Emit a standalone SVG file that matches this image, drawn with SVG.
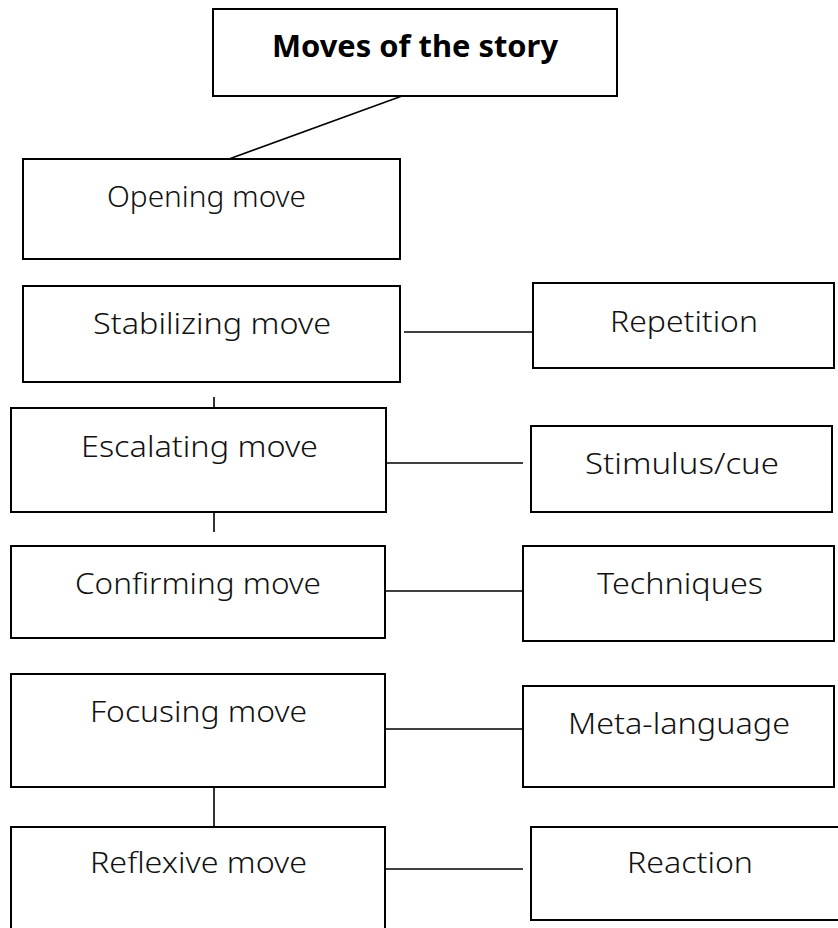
<svg xmlns="http://www.w3.org/2000/svg" width="838" height="928" viewBox="0 0 838 928">
<style>
.box{fill:#fff;stroke:#000;stroke-width:2}
.t{font-family:"Noto Sans","Liberation Sans",sans-serif;font-size:29px;font-weight:300;fill:#111;text-anchor:middle}
.b{font-weight:bold;font-size:31px;fill:#000}
.c{stroke:#000;stroke-width:1.6;fill:none}
</style>
<rect width="838" height="928" fill="#fff"/>
<g id="connectors">
<line class="c" x1="402" y1="96" x2="229" y2="159"/>
<line class="c" x1="404" y1="332" x2="533" y2="332"/>
<line class="c" x1="214" y1="397" x2="214" y2="409"/>
<line class="c" x1="383" y1="463" x2="523" y2="463"/>
<line class="c" x1="214" y1="512" x2="214" y2="532"/>
<line class="c" x1="385" y1="591" x2="531" y2="591"/>
<line class="c" x1="386" y1="729" x2="523" y2="729"/>
<line class="c" x1="214" y1="787" x2="214" y2="827"/>
<line class="c" x1="386" y1="869" x2="523" y2="869"/>
</g>
<g id="n-title"><rect class="box" x="213" y="9" width="404" height="87"/><text class="t b" x="415" y="57" textLength="286" lengthAdjust="spacingAndGlyphs">Moves of the story</text></g>
<g id="n-opening"><rect class="box" x="23" y="159" width="377" height="100"/><text class="t" x="206.5" y="207" textLength="199" lengthAdjust="spacingAndGlyphs">Opening move</text></g>
<g id="n-stabilizing"><rect class="box" x="23" y="286" width="377" height="96"/><text class="t" x="212" y="334" textLength="238" lengthAdjust="spacingAndGlyphs">Stabilizing move</text></g>
<g id="n-repetition"><rect class="box" x="533" y="283" width="301" height="85"/><text class="t" x="684" y="332" textLength="148" lengthAdjust="spacingAndGlyphs">Repetition</text></g>
<g id="n-escalating"><rect class="box" x="11" y="408" width="375" height="104"/><text class="t" x="199.5" y="457" textLength="237" lengthAdjust="spacingAndGlyphs">Escalating move</text></g>
<g id="n-stimulus"><rect class="box" x="531" y="426" width="301" height="86"/><text class="t" x="682" y="474" textLength="194" lengthAdjust="spacingAndGlyphs">Stimulus/cue</text></g>
<g id="n-confirming"><rect class="box" x="11" y="546" width="374" height="92"/><text class="t" x="198" y="594" textLength="246" lengthAdjust="spacingAndGlyphs">Confirming move</text></g>
<g id="n-techniques"><rect class="box" x="523" y="546" width="311" height="95"/><text class="t" x="680" y="594" textLength="166" lengthAdjust="spacingAndGlyphs">Techniques</text></g>
<g id="n-focusing"><rect class="box" x="11" y="674" width="374" height="113"/><text class="t" x="198.5" y="722" textLength="217" lengthAdjust="spacingAndGlyphs">Focusing move</text></g>
<g id="n-meta"><rect class="box" x="523" y="686" width="311" height="101"/><text class="t" x="679" y="734" textLength="222" lengthAdjust="spacingAndGlyphs">Meta-language</text></g>
<g id="n-reflexive"><rect class="box" x="11" y="827" width="374" height="110"/><text class="t" x="198.5" y="873" textLength="217" lengthAdjust="spacingAndGlyphs">Reflexive move</text></g>
<g id="n-reaction"><rect class="box" x="531" y="827" width="318" height="93"/><text class="t" x="690" y="873" textLength="126" lengthAdjust="spacingAndGlyphs">Reaction</text></g>
</svg>
